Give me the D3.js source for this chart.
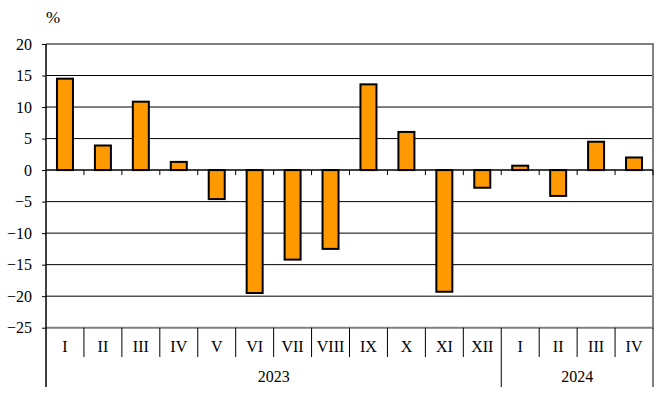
<!DOCTYPE html>
<html><head><meta charset="utf-8">
<script src="https://cdn.jsdelivr.net/npm/d3@7"></script>
<style>body{margin:0;background:#fff}svg{display:block}</style>
</head><body><svg id="c" width="659" height="397"></svg>
<script>
const categories = ["I","II","III","IV","V","VI","VII","VIII","IX","X","XI","XII","I","II","III","IV"];
const values = [14.5, 3.9, 10.85, 1.3, -4.6, -19.5, -14.2, -12.5, 13.6, 6.05, -19.3, -2.8, 0.7, -4.1, 4.5, 2.0];
const years = [{label:"2023", start:0, end:12},{label:"2024", start:12, end:16}];
const yTicks = [20,15,10,5,0,-5,-10,-15,-20,-25];

const FONT = "Liberation Serif";
const svg = d3.select("#c");
const L=46, R=653, T=44, B=327.7;
const idx = d3.range(categories.length);
const x = d3.scaleBand().domain(idx).range([L,R]).paddingInner(0).paddingOuter(0);
const y = d3.scaleLinear().domain([-25,20]).range([B,T]);

// gridlines
svg.append("g").selectAll("line").data(yTicks.filter(t=>t!==20 && t!==-25 && t!==0)).join("line")
  .attr("x1",L).attr("x2",R).attr("y1",d=>y(d)).attr("y2",d=>y(d)).attr("stroke","#000").attr("stroke-width",1);
// plot border top/right/bottom grey
svg.append("path").attr("d",`M${L},${y(20)}H${R}V${y(-25)}H${L}`).attr("fill","none").attr("stroke","#808080").attr("stroke-width",2);

// y axis
const yAxis = d3.axisLeft(y).tickValues(yTicks).tickSize(4).tickPadding(10).tickFormat(d3.format("d"));
const gy = svg.append("g").attr("transform",`translate(${L},0)`).call(yAxis);
gy.attr("font-family", null).attr("font-size", null);
gy.select(".domain").remove();
gy.selectAll(".tick line").attr("stroke","#000");
gy.selectAll("text").attr("fill","#000").attr("font-family",FONT).attr("font-size",16);

// bars
const bw = 16;
svg.append("g").selectAll("rect").data(values).join("rect")
  .attr("x",(d,i)=>x(i)+x.bandwidth()/2-bw/2)
  .attr("width",bw)
  .attr("y",d=>y(Math.max(0,d)))
  .attr("height",d=>Math.abs(y(d)-y(0)))
  .attr("fill","#FF9900").attr("stroke","#000").attr("stroke-width",2);

// zero axis with ticks
svg.append("line").attr("x1",L).attr("x2",R).attr("y1",y(0)).attr("y2",y(0)).attr("stroke","#000").attr("stroke-width",1.5);
svg.append("g").selectAll("line").data(d3.range(1,categories.length+1)).join("line")
  .attr("x1",i=>x.step()*i+L).attr("x2",i=>x.step()*i+L).attr("y1",y(0)).attr("y2",y(0)+5).attr("stroke","#000");

// left axis line
svg.append("line").attr("x1",L).attr("x2",L).attr("y1",y(20)).attr("y2",387).attr("stroke","#000").attr("stroke-width",1.5);

// category labels & separators
const catY0 = B, catY1 = 357;
svg.append("g").selectAll("line").data(d3.range(1,categories.length+1)).join("line")
  .attr("x1",i=>L+x.step()*i).attr("x2",i=>L+x.step()*i).attr("y1",catY0).attr("y2",catY1).attr("stroke","#000");
svg.append("g").selectAll("text").data(categories).join("text")
  .attr("font-family",FONT).attr("font-size",16)
  .attr("x",(d,i)=>x(i)+x.bandwidth()/2).attr("y",352).attr("text-anchor","middle").text(d=>d);

// year separators & labels
svg.append("g").selectAll("line").data(years).join("line")
  .attr("x1",d=>L+x.step()*d.end).attr("x2",d=>L+x.step()*d.end).attr("y1",catY1).attr("y2",387).attr("stroke","#000");
svg.append("g").selectAll("text").data(years).join("text")
  .attr("font-family",FONT).attr("font-size",16)
  .attr("x",d=>L+x.step()*(d.start+d.end)/2).attr("y",382).attr("text-anchor","middle").text(d=>d.label);

svg.append("text").attr("font-family",FONT).attr("x",46).attr("y",23).attr("font-size",17).text("%");
</script></body></html>
